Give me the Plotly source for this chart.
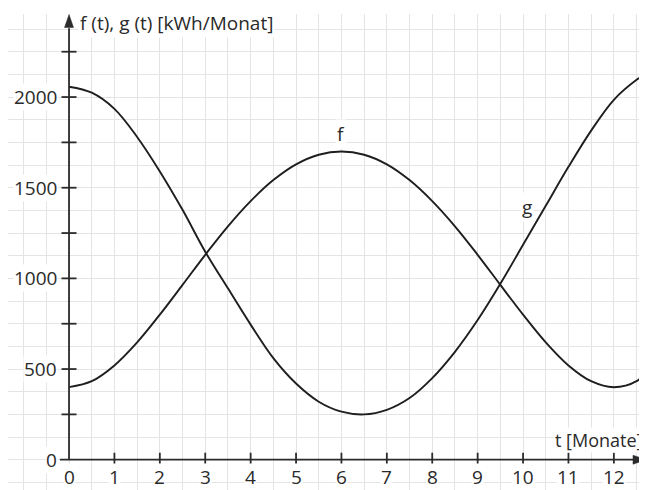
import plotly.graph_objects as go

# Data
t = [0, 0.5, 1, 1.5, 2, 2.5, 3, 3.5, 4, 4.5, 5, 5.5, 6, 6.5, 7, 7.5, 8, 8.5,
     9, 9.5, 10, 10.5, 11, 11.5, 12, 12.5, 12.73]
f_vals = [400, 433, 520, 647, 800, 964, 1130, 1287, 1426, 1542, 1629, 1682, 1700,
          1682, 1629, 1542, 1426, 1287, 1130, 964, 800, 647, 520, 433, 400, 433, 490]
g_vals = [2057, 2024, 1935, 1780, 1590, 1378, 1147, 945, 745, 560, 420, 320, 265,
          250, 275, 340, 450, 595, 770, 970, 1185, 1400, 1615, 1815, 1985, 2095, 2132]

x_ticks = list(range(0, 13))
y_minor_ticks = [250, 500, 750, 1000, 1250, 1500, 1750, 2000, 2250]
y_tick_labels = [0, 500, 1000, 1500, 2000]

y_title = "f (t), g (t) [kWh/Monat]"
x_title = "t [Monate]"

FONT = "Open Sans"
INK = "#1e1e1e"
AXC = "#2b2b2b"
TXT = "#2a2a2a"
FS = 19

X_MIN, X_MAX = -1.344, 12.73
Y_MIN, Y_MAX = -167, 2458

fig = go.Figure()
fig.add_trace(go.Scatter(x=t, y=f_vals, mode="lines", name="f",
                         line=dict(color=INK, width=1.9, shape="spline", smoothing=1)))
fig.add_trace(go.Scatter(x=t, y=g_vals, mode="lines", name="g",
                         line=dict(color=INK, width=1.9, shape="spline", smoothing=1)))

shapes = []
# axis lines
shapes.append(dict(type="line", xref="x", yref="y", x0=-0.2, x1=12.5, y0=0, y1=0,
                   line=dict(color=AXC, width=1.8), layer="above"))
shapes.append(dict(type="line", xref="x", yref="y", x0=0, x1=0, y0=0, y1=2380,
                   line=dict(color=AXC, width=1.8), layer="above"))
# arrowheads
shapes.append(dict(type="path", xref="x", yref="y", xsizemode="pixel", ysizemode="pixel",
                   xanchor=X_MAX, yanchor=0, path="M -1,0 L -14,4.5 L -14,-4.5 Z",
                   fillcolor=AXC, line=dict(color=AXC, width=0.5), layer="above"))
shapes.append(dict(type="path", xref="x", yref="y", xsizemode="pixel", ysizemode="pixel",
                   xanchor=0, yanchor=2455, path="M 0,0 L -4.5,-13 L 4.5,-13 Z",
                   fillcolor=AXC, line=dict(color=AXC, width=0.5), layer="above"))
# tick marks
for xv in x_ticks[1:]:
    shapes.append(dict(type="line", xref="x", yref="y", ysizemode="pixel", yanchor=0,
                       x0=xv, x1=xv, y0=-7, y1=7, line=dict(color=AXC, width=1.8),
                       layer="above"))
for yv in y_minor_ticks:
    shapes.append(dict(type="line", xref="x", yref="y", xsizemode="pixel", xanchor=0,
                       x0=-7.5, x1=7.5, y0=yv, y1=yv, line=dict(color=AXC, width=1.8),
                       layer="above"))

annotations = []
for xv in x_ticks:
    annotations.append(dict(x=xv, y=0, xref="x", yref="y", text=str(xv), showarrow=False,
                            yanchor="middle", yshift=-17, bgcolor="white", borderpad=0,
                            font=dict(family=FONT, size=FS, color=TXT)))
for yv in y_tick_labels:
    annotations.append(dict(x=0, y=yv, xref="x", yref="y", text=str(yv), showarrow=False,
                            xanchor="right", xshift=-11, bgcolor="white", borderpad=0,
                            font=dict(family=FONT, size=FS, color=TXT)))
annotations.append(dict(x=0, y=2409, xref="x", yref="y", text=y_title, showarrow=False,
                        xanchor="left", yanchor="middle", xshift=9, bgcolor="white",
                        borderpad=1, font=dict(family=FONT, size=FS, color=TXT)))
annotations.append(dict(x=X_MAX, y=0, xref="x", yref="y", text=x_title, showarrow=False,
                        xanchor="right", yanchor="middle", yshift=20, xshift=-4,
                        bgcolor="white", borderpad=0,
                        font=dict(family=FONT, size=18, color=TXT)))
annotations.append(dict(x=6, y=1700, xref="x", yref="y", text="f", showarrow=False,
                        yanchor="bottom", yshift=2, bgcolor="white", borderpad=1,
                        font=dict(family=FONT, size=FS, color=TXT)))
annotations.append(dict(x=10.09, y=1394, xref="x", yref="y", text="g", showarrow=False,
                        yanchor="middle", bgcolor="white", borderpad=1,
                        font=dict(family=FONT, size=FS, color=TXT)))

# The page body has an 8px default margin, so the figure is sized to fit the window.
fig.update_layout(
    width=639, height=482,
    margin=dict(l=0, r=0, t=6, b=0),
    paper_bgcolor="white", plot_bgcolor="white",
    showlegend=False,
    shapes=shapes, annotations=annotations,
    xaxis=dict(range=[X_MIN, X_MAX], tick0=0, dtick=0.5, showgrid=True,
               gridcolor="#e4e4e4", gridwidth=1.3, zeroline=False,
               showticklabels=False, ticks="", fixedrange=True),
    yaxis=dict(range=[Y_MIN, Y_MAX], tick0=0, dtick=125, showgrid=True,
               gridcolor="#e4e4e4", gridwidth=1.3, zeroline=False,
               showticklabels=False, ticks="", fixedrange=True),
)

fig.write_html("out.html")
